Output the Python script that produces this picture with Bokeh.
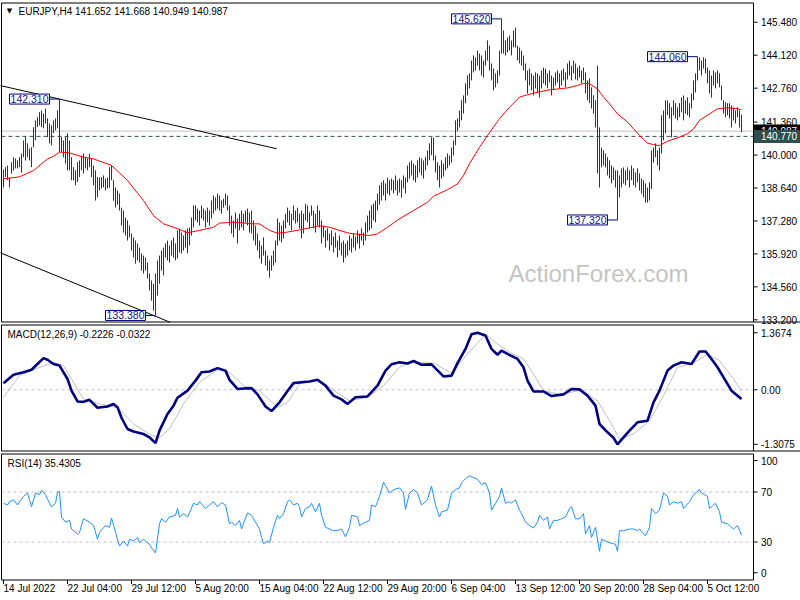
from bokeh.plotting import figure
from bokeh.models import Range1d, Label, ColumnDataSource
from bokeh.embed import file_html
from bokeh.resources import INLINE
from bokeh.core.properties import value

FONT = "Liberation Sans"
FS = "10px"

# ---------------- data ----------------
symbol_header = "EURJPY,H4  141.652 141.668 140.949 140.987"
macd_header = "MACD(12,26,9) -0.2226 -0.0322"
rsi_header = "RSI(14) 35.4305"
watermark = "ActionForex.com"

high = [
    139.40, 139.50, 139.57, 139.07, 139.70, 139.91, 139.86, 139.78, 139.91, 140.06,
    140.60, 140.74, 140.48, 140.27, 140.32, 141.15, 141.43, 141.56, 141.77, 141.84,
    141.71, 141.92, 141.51, 141.30, 141.22, 141.43, 141.51, 141.84, 142.31, 140.74,
    140.60, 140.74, 140.90, 140.60, 139.91, 139.50, 139.37, 139.70, 139.78, 139.98,
    140.06, 139.91, 139.86, 140.06, 139.86, 139.57, 139.37, 139.09, 139.07, 139.09,
    139.16, 139.03, 139.07, 139.50, 139.57, 138.96, 138.66, 138.54, 138.41, 137.83,
    137.71, 137.42, 137.30, 137.09, 136.76, 136.60, 136.47, 136.35, 136.18, 135.94,
    135.85, 135.77, 135.56, 135.11, 134.82, 134.69, 135.11, 135.65, 135.85, 136.06,
    136.18, 136.35, 136.47, 136.27, 136.47, 136.60, 136.35, 136.89, 136.97, 136.80,
    136.68, 136.89, 136.97, 137.01, 137.42, 137.92, 137.92, 137.79, 137.71, 137.92,
    137.79, 137.71, 137.83, 137.71, 138.12, 138.33, 138.25, 138.41, 138.33, 138.12,
    138.20, 138.41, 138.33, 137.92, 137.50, 137.30, 137.63, 137.38, 137.58, 137.71,
    137.58, 137.71, 137.79, 137.63, 137.71, 137.30, 137.09, 136.76, 136.47, 136.27,
    136.60, 136.06, 135.85, 135.65, 135.85, 136.06, 136.47, 137.38, 137.22, 137.09,
    137.30, 137.58, 137.83, 137.71, 137.58, 137.92, 137.71, 137.83, 137.58, 137.71,
    137.58, 137.99, 137.92, 137.63, 137.92, 137.71, 137.58, 137.92, 137.71, 137.30,
    137.09, 136.89, 136.97, 136.76, 136.89, 136.64, 136.80, 136.47, 136.68, 136.39,
    136.47, 136.35, 136.47, 136.68, 136.56, 136.76, 136.64, 136.89, 136.76, 136.97,
    136.80, 137.22, 137.50, 137.71, 137.92, 137.99, 138.12, 138.41, 138.75, 138.87,
    138.96, 138.83, 139.07, 138.96, 139.03, 138.96, 139.16, 138.96, 139.03, 138.96,
    139.16, 139.07, 139.57, 139.70, 139.78, 139.65, 139.57, 139.78, 139.91, 139.86,
    139.78, 139.91, 140.19, 140.48, 140.73, 140.73, 139.98, 139.70, 139.57, 139.78,
    139.65, 139.91, 140.06, 139.98, 140.31, 140.60, 141.43, 141.51, 141.84, 142.26,
    142.46, 142.96, 143.29, 143.37, 143.90, 144.11, 144.03, 144.31, 144.19, 144.11,
    143.90, 144.31, 144.73, 144.52, 143.78, 143.57, 143.37, 143.49, 144.31, 145.62,
    145.14, 144.73, 144.85, 144.93, 144.73, 145.14, 145.26, 144.52, 144.44, 144.31,
    144.11, 143.78, 143.49, 143.57, 143.37, 143.28, 143.41, 143.37, 143.28, 143.49,
    143.61, 143.57, 143.37, 143.49, 143.28, 143.20, 143.41, 143.49, 143.37, 143.49,
    143.57, 143.41, 143.78, 143.90, 143.69, 143.90, 143.78, 143.61, 143.69, 143.49,
    143.61, 143.41, 143.08, 143.16, 142.79, 142.46, 142.26, 143.69, 141.14, 140.31,
    140.19, 140.06, 139.91, 139.78, 139.57, 139.49, 139.37, 139.37, 139.16, 139.45,
    139.49, 139.37, 139.49, 139.37, 139.57, 139.45, 139.28, 139.45, 139.24, 139.03,
    138.96, 138.83, 138.66, 138.87, 140.19, 140.31, 140.48, 140.19, 140.31, 141.64,
    141.84, 142.26, 142.26, 142.14, 141.97, 142.26, 142.14, 141.97, 142.14, 142.38,
    142.46, 142.26, 142.38, 142.14, 142.54, 143.08, 143.37, 144.06, 144.03, 143.90,
    144.03, 143.98, 143.61, 143.49, 143.28, 143.49, 143.41, 143.49, 143.37, 142.87,
    142.26, 142.18, 142.14, 142.14, 142.05, 141.97, 141.84, 141.97, 141.84, 141.67,
]
low = [
    138.66, 139.09, 138.96, 138.66, 139.23, 139.36, 139.45, 139.45, 139.50, 139.28,
    139.91, 139.78, 139.91, 139.78, 139.50, 140.32, 140.61, 141.15, 141.22, 141.15,
    141.10, 141.30, 140.74, 140.48, 140.40, 140.90, 141.02, 141.10, 140.12, 140.12,
    139.91, 139.65, 139.37, 139.37, 138.96, 138.96, 138.75, 138.88, 139.09, 139.37,
    139.24, 139.45, 139.37, 139.50, 139.09, 138.75, 138.12, 138.26, 138.54, 138.62,
    138.67, 138.54, 138.62, 138.66, 138.96, 138.12, 137.83, 137.95, 137.71, 137.09,
    136.80, 136.68, 136.47, 136.60, 136.06, 135.77, 135.52, 135.65, 135.56, 135.23,
    135.11, 135.23, 134.90, 134.41, 133.99, 133.58, 133.38, 134.20, 134.69, 135.23,
    135.03, 135.77, 135.65, 135.56, 135.85, 135.77, 135.65, 135.73, 135.98, 135.94,
    136.06, 136.18, 135.94, 136.27, 136.68, 137.01, 137.30, 137.22, 137.09, 137.38,
    137.30, 137.01, 137.22, 137.09, 137.38, 137.58, 137.71, 137.79, 137.71, 137.58,
    137.83, 137.92, 137.71, 137.09, 136.76, 136.60, 136.97, 136.35, 136.89, 137.01,
    136.89, 137.22, 137.09, 136.80, 136.76, 136.47, 136.27, 136.06, 135.73, 135.52,
    135.85, 135.44, 135.23, 134.94, 135.23, 135.44, 135.56, 136.27, 136.47, 136.39,
    136.56, 136.97, 137.22, 137.09, 136.89, 137.30, 137.17, 137.22, 136.97, 136.56,
    136.76, 137.30, 137.22, 136.97, 137.50, 136.97, 136.80, 137.09, 137.01, 136.35,
    136.60, 136.18, 136.47, 136.06, 136.27, 135.98, 136.18, 135.77, 136.06, 135.85,
    135.56, 135.77, 135.85, 136.06, 135.98, 136.18, 136.06, 136.35, 136.14, 136.47,
    136.27, 136.47, 136.80, 136.89, 136.97, 137.30, 137.22, 137.71, 137.95, 138.12,
    138.33, 138.12, 138.41, 138.33, 138.54, 138.41, 138.54, 138.33, 138.45, 138.25,
    138.62, 138.41, 138.87, 139.03, 139.16, 138.96, 138.87, 139.07, 139.28, 139.16,
    139.03, 139.37, 139.57, 139.78, 139.99, 139.78, 139.28, 138.96, 138.66, 139.03,
    139.11, 139.37, 139.45, 139.57, 139.69, 139.98, 140.40, 140.98, 141.14, 141.43,
    141.71, 142.14, 142.46, 142.75, 143.08, 143.41, 143.49, 143.69, 143.49, 143.28,
    143.20, 143.69, 143.90, 143.49, 143.08, 142.67, 142.79, 142.96, 143.28, 144.19,
    144.19, 144.11, 144.23, 144.31, 144.11, 144.44, 144.44, 143.90, 143.78, 143.69,
    143.49, 143.08, 142.54, 142.87, 142.67, 142.46, 142.75, 142.58, 142.37, 142.75,
    142.96, 142.87, 142.75, 143.00, 142.46, 142.67, 142.87, 143.00, 142.75, 142.87,
    143.08, 142.79, 143.12, 143.28, 143.08, 143.37, 143.12, 143.08, 143.20, 142.96,
    143.08, 142.54, 142.26, 142.14, 141.92, 141.71, 141.14, 139.24, 138.66, 139.49,
    139.57, 139.49, 139.16, 139.03, 138.83, 138.96, 138.66, 137.32, 138.25, 138.66,
    138.83, 138.75, 138.96, 138.66, 138.96, 138.75, 138.66, 138.87, 138.54, 138.41,
    138.25, 138.04, 138.04, 138.12, 138.60, 139.69, 139.91, 139.57, 139.37, 140.06,
    140.61, 140.90, 141.64, 141.51, 140.73, 141.64, 141.51, 141.43, 141.56, 141.76,
    141.43, 141.71, 141.64, 141.56, 141.92, 142.26, 142.58, 143.08, 143.49, 143.28,
    143.57, 143.37, 142.96, 142.54, 142.37, 142.87, 142.75, 142.96, 142.79, 142.26,
    141.71, 141.56, 141.64, 141.51, 141.14, 141.43, 141.30, 141.56, 141.14, 140.95,
]
bar_idx = list(range(len(high)))

ma_idx = [0, 8, 15, 22, 25, 28, 33, 40, 45, 54,
          62, 70, 75, 80, 87, 92, 98, 105, 108, 115,
          125, 128, 133, 137, 142, 148, 158, 163, 168, 173,
          178, 183, 187, 192, 198, 205, 212, 215, 222, 227,
          230, 233, 238, 242, 248, 253, 258, 262, 267, 273,
          282, 287, 290, 293, 297, 300, 303, 307, 312, 315,
          318, 322, 325, 328, 332, 337, 342, 345, 348, 353,
          357, 362, 367, 369]
ma_val = [139.02, 139.10, 139.36, 139.84, 139.95, 140.12, 140.09, 139.91, 139.84, 139.57,
          138.95, 138.12, 137.50, 137.16, 136.96, 136.79, 136.89, 137.02, 137.19, 137.23,
          137.16, 137.16, 136.89, 136.77, 136.82, 136.91, 137.08, 137.02, 136.89, 136.77,
          136.72, 136.68, 136.75, 137.02, 137.37, 137.71, 138.05, 138.30, 138.57, 138.81,
          139.16, 139.64, 140.32, 140.81, 141.50, 141.97, 142.39, 142.49, 142.59, 142.69,
          142.77, 142.87, 142.96, 142.94, 142.73, 142.39, 142.11, 141.70, 141.36, 141.08,
          140.81, 140.49, 140.43, 140.39, 140.57, 140.71, 140.88, 141.08, 141.43, 141.70,
          141.91, 141.95, 141.91, 141.87]

macd_idx = [0, 5, 10, 14, 17, 20, 22, 25, 28, 32,
            34, 37, 40, 43, 47, 52, 55, 57, 59, 62,
            65, 70, 73, 76, 78, 82, 85, 87, 92, 96,
            99, 103, 107, 111, 113, 117, 120, 124, 127, 131,
            134, 138, 142, 145, 149, 153, 157, 161, 165, 169,
            172, 176, 182, 187, 191, 194, 198, 202, 205, 209,
            214, 220, 224, 227, 231, 234, 237, 241, 244, 247,
            249, 252, 257, 260, 262, 265, 270, 274, 280, 284,
            288, 292, 296, 298, 302, 305, 307, 310, 313, 317,
            322, 325, 328, 332, 335, 339, 344, 348, 351, 354,
            357, 361, 364, 369]
macd_val = [0.16, 0.36, 0.42, 0.48, 0.62, 0.76, 0.72, 0.62, 0.58, 0.26,
            -0.02, -0.28, -0.29, -0.24, -0.43, -0.40, -0.34, -0.42, -0.67, -0.94,
            -1.00, -1.06, -1.14, -1.28, -0.98, -0.58, -0.38, -0.19, -0.02, 0.22,
            0.42, 0.44, 0.52, 0.46, 0.24, 0.02, 0.03, 0.04, -0.11, -0.40,
            -0.51, -0.30, -0.03, 0.16, 0.18, 0.20, 0.24, 0.10, -0.14, -0.23,
            -0.34, -0.18, -0.16, 0.10, 0.46, 0.61, 0.66, 0.63, 0.69, 0.60,
            0.61, 0.32, 0.34, 0.64, 0.98, 1.33, 1.37, 1.30, 0.98, 0.84,
            0.94, 0.86, 0.74, 0.54, 0.22, -0.04, -0.04, -0.15, -0.11, 0.02,
            0.01, -0.14, -0.38, -0.82, -1.02, -1.15, -1.31, -1.14, -0.98, -0.78,
            -0.74, -0.30, -0.02, 0.46, 0.58, 0.66, 0.62, 0.92, 0.92, 0.74,
            0.54, 0.22, -0.02, -0.22]

sig_idx = [0, 8, 17, 25, 30, 35, 40, 48, 57, 65,
           73, 78, 83, 90, 98, 107, 113, 120, 128, 137,
           142, 148, 157, 163, 173, 182, 190, 198, 203, 215,
           224, 232, 241, 247, 253, 260, 265, 270, 278, 288,
           297, 303, 308, 315, 323, 330, 337, 345, 352, 358,
           365, 369]
sig_val = [-0.18, 0.34, 0.52, 0.66, 0.58, 0.18, -0.22, -0.34, -0.43, -0.82,
           -1.06, -1.15, -0.94, -0.34, 0.18, 0.48, 0.42, 0.10, -0.02, -0.42,
           -0.30, 0.14, 0.24, 0.06, -0.26, -0.18, 0.10, 0.54, 0.66, 0.64,
           0.40, 0.86, 1.33, 1.10, 0.90, 0.74, 0.38, -0.02, -0.11, -0.02,
           -0.26, -0.74, -1.18, -1.06, -0.74, -0.14, 0.54, 0.64, 0.86, 0.70,
           0.26, -0.03]

rsi_idx = [0, 2, 3, 5, 7, 8, 10, 12, 14, 16,
           18, 19, 21, 23, 24, 26, 27, 28, 29, 31,
           33, 34, 37, 38, 40, 43, 45, 47, 48, 51,
           53, 54, 56, 58, 60, 62, 63, 65, 67, 68,
           70, 73, 74, 76, 78, 79, 81, 83, 86, 87,
           88, 90, 92, 93, 95, 97, 98, 101, 103, 105,
           107, 109, 111, 113, 114, 116, 118, 119, 122, 124,
           126, 128, 129, 130, 132, 133, 135, 137, 138, 140,
           142, 143, 145, 147, 148, 149, 151, 153, 154, 156,
           158, 159, 161, 163, 165, 168, 169, 171, 173, 174,
           177, 178, 181, 183, 184, 186, 188, 190, 193, 195,
           198, 200, 201, 203, 205, 207, 209, 212, 214, 216,
           218, 219, 222, 224, 226, 228, 229, 231, 233, 235,
           237, 239, 241, 243, 244, 246, 248, 249, 251, 253,
           254, 256, 258, 259, 261, 263, 265, 267, 268, 270,
           272, 273, 275, 277, 279, 281, 283, 284, 286, 288,
           290, 291, 293, 294, 296, 298, 299, 301, 303, 306,
           307, 308, 310, 313, 315, 317, 318, 321, 323, 324,
           326, 328, 330, 332, 333, 335, 337, 339, 340, 343,
           345, 348, 349, 352, 353, 356, 358, 359, 362, 363,
           365, 367, 369]
rsi_val = [61.0, 59.6, 62.3, 63.7, 59.6, 62.3, 66.4, 69.2, 58.2, 69.2,
           67.8, 71.4, 67.8, 61.0, 58.2, 61.0, 69.7, 70.5, 50.0, 45.9,
           47.3, 40.4, 36.3, 37.7, 48.6, 45.9, 43.2, 32.2, 37.7, 43.2,
           41.8, 49.2, 37.7, 26.7, 30.8, 26.7, 32.2, 30.8, 33.6, 29.5,
           32.2, 28.1, 25.3, 21.2, 44.5, 48.6, 45.9, 50.0, 51.4, 56.8,
           50.0, 52.7, 50.0, 53.3, 61.0, 59.6, 62.3, 56.8, 59.6, 62.3,
           58.2, 61.5, 59.6, 44.5, 45.9, 43.2, 47.3, 40.4, 53.3, 51.4,
           45.9, 40.4, 33.6, 28.6, 30.8, 29.5, 41.8, 51.4, 48.6, 52.7,
           62.3, 63.7, 59.6, 61.0, 58.2, 50.0, 56.8, 58.2, 61.0, 54.1,
           61.0, 51.4, 41.8, 40.4, 39.0, 39.6, 40.4, 34.1, 41.8, 51.4,
           50.0, 43.2, 45.9, 47.3, 59.6, 58.2, 66.4, 77.9, 69.2, 71.9,
           73.3, 69.2, 56.0, 69.2, 71.9, 69.2, 59.6, 63.7, 74.7, 59.6,
           50.0, 54.1, 55.5, 69.2, 71.9, 73.3, 77.4, 80.7, 82.9, 81.5,
           80.1, 76.0, 77.4, 69.2, 55.5, 61.0, 66.4, 73.3, 61.0, 62.3,
           61.0, 63.7, 55.5, 52.7, 45.9, 43.2, 41.2, 45.9, 51.4, 47.3,
           50.0, 40.4, 47.3, 47.3, 48.6, 50.0, 56.8, 58.2, 48.6, 48.6,
           52.7, 36.3, 43.2, 33.6, 41.8, 22.6, 32.2, 30.8, 29.5, 28.1,
           22.6, 39.0, 39.0, 40.4, 40.4, 39.0, 40.4, 34.9, 41.8, 56.8,
           52.7, 55.5, 69.2, 66.4, 59.6, 62.3, 61.0, 62.3, 56.8, 62.3,
           67.8, 71.9, 69.2, 66.4, 56.8, 61.0, 54.1, 45.9, 44.5, 43.2,
           40.4, 43.2, 35.4]

# trend lines (bar index, price)
trend_upper_idx = [-1.75, 136.6]
trend_upper_px = [142.87, 140.26]
trend_lower_idx = [-1.75, 83.25]
trend_lower_px = [135.97, 133.10]

# swing high / low labels
swing_idx = [28, 76, 249, 307, 347]
swing_px = [142.31, 133.38, 145.62, 137.32, 144.06]
swing_txt = ["142.310", "133.380", "145.620", "137.320", "144.060"]

bid_price = 140.987
alert_price = 140.770

price_ticks = [145.48, 144.12, 142.76, 141.36, 140.00, 138.64, 137.28, 135.92, 134.56, 133.20]
macd_ticks = [1.3674, 0.0, -1.3075]
macd_tick_txt = ["1.3674", "0.00", "-1.3075"]
rsi_levels = [70, 30]
rsi_tick_pos = [95.2, 70, 30, 5.4]
rsi_tick_txt = ["100", "70", "30", "0"]

date_idx = [0, 32, 64, 96, 128, 160, 192, 224, 256, 288, 320, 352]
date_txt = ["14 Jul 2022", "22 Jul 04:00", "29 Jul 12:00", "5 Aug 20:00",
            "15 Aug 04:00", "22 Aug 12:00", "29 Aug 20:00", "6 Sep 04:00",
            "13 Sep 12:00", "20 Sep 20:00", "28 Sep 04:00", "5 Oct 12:00"]

# ---------------- layout constants (bar units / pixel rows) ----------------
BAR = "#173A57"
X_START, X_END = -1.5, 398.5        # 2 px per bar across 800 px
PLOT_L, PLOT_R = -1.0, 375.0        # plot-area borders
TICK_END = PLOT_R + 2.0             # 4 px tick marks
LABEL_X = 378.75                    # left edge of scale labels
TAG_L = 375.25
W, H = 800, 600


def main_val(row):      # page pixel row -> price
    return 133.2 + (319.3 - row) / 24.23


def macd_v(row):        # page pixel row -> MACD value
    return (389.3 - row) / 41.7


def rsi_v(row):         # page pixel row -> RSI value
    return (579.0 - row) / 1.25


p = figure(width=W, height=H, x_range=Range1d(X_START, X_END),
           y_range=Range1d(main_val(H), main_val(0)),
           output_backend="svg", toolbar_location=None,
           x_axis_location=None, y_axis_location=None,
           min_border_left=0, min_border_right=0, min_border_top=0, min_border_bottom=0)
p.extra_y_ranges = {"macd": Range1d(macd_v(H), macd_v(0)),
                    "rsi": Range1d(rsi_v(H), rsi_v(0))}
p.outline_line_color = None
p.grid.visible = False
p.background_fill_color = "white"
p.border_fill_color = "white"


def scale(ticks, labels, rn):
    p.segment(x0=PLOT_R, x1=TICK_END, y0=ticks, y1=ticks, line_color="black",
              line_width=1, y_range_name=rn)
    p.text(x=[LABEL_X] * len(ticks), y=ticks, text=labels, text_font=value(FONT),
           text_font_size=value(FS), text_color="black", text_align="left",
           text_baseline="middle", y_range_name=rn)


def frame_box(top, bottom, rn):
    p.quad(left=PLOT_L, right=PLOT_R, top=top, bottom=bottom, fill_color=None,
           line_color="black", line_width=1, y_range_name=rn)


def hline(y, color, rn, dash="solid"):
    p.segment(x0=PLOT_L, x1=PLOT_R, y0=y, y1=y, line_color=color, line_width=1,
              line_dash=dash, y_range_name=rn)


def header(x, y, txt, rn):
    p.add_layout(Label(x=x, y=y, text=txt, text_font=FONT, text_font_size=FS,
                       text_color="black", text_align="left", text_baseline="middle",
                       y_range_name=rn))


MAIN = "default"

# ---- main price panel ----
p.add_layout(Label(x=297.5, y=main_val(273), text=watermark, text_font=FONT,
                   text_font_size="24px", text_color="#C4C4C4", text_align="center",
                   text_baseline="middle", level="underlay"))
hline(bid_price, "#C0C0C0", MAIN)
hline(alert_price, "#2F4F4F", MAIN, "4 3")
p.line(trend_upper_idx, trend_upper_px, line_color="black", line_width=1)
p.line(trend_lower_idx, trend_lower_px, line_color="black", line_width=1)

bars = ColumnDataSource(dict(i=bar_idx, high=high, low=low))
p.segment(x0="i", y0="low", x1="i", y1="high", source=bars, line_color=BAR, line_width=1)
p.line(ma_idx, ma_val, line_color="#FF0000", line_width=1)

label_gap = 5
p.segment(x0=[i - label_gap for i in swing_idx], x1=swing_idx, y0=swing_px, y1=swing_px,
          line_color="#000080", line_width=1)
for i, v, t in zip(swing_idx, swing_px, swing_txt):
    p.add_layout(Label(x=i - label_gap, y=v, text=t, text_align="right", text_baseline="middle",
                       text_font=FONT, text_font_size="10.5px", text_color="#14148C",
                       border_line_color="#000080", border_line_width=1,
                       background_fill_color="white", padding=1))

p.add_layout(Label(x=3.0, y=main_val(10.5), text="\u25BC", text_font="DejaVu Sans",
                   text_font_size="7px", text_color="black", text_align="center",
                   text_baseline="middle"))
header(7.5, main_val(11), symbol_header, MAIN)

frame_box(main_val(2.5), main_val(321.5), MAIN)
p.segment(x0=PLOT_R, x1=X_END, y0=main_val(321.5), y1=main_val(321.5), line_color="black")
scale(price_ticks, [f"{t:.3f}" for t in price_ticks], MAIN)

half = 6.5 / 24.23
for v, bg in ((bid_price, "black"), (alert_price, "#2F4F4F")):
    p.quad(left=TAG_L, right=X_END, top=v + half, bottom=v - half, fill_color=bg, line_color=None)
    p.text(x=[LABEL_X], y=[v], text=[f"{v:.3f}"], text_font=value(FONT),
           text_font_size=value(FS), text_color="white", text_align="left",
           text_baseline="middle")

# ---- MACD panel ----
hline(0.0, "#C0C0C0", "macd", "3 3")
p.line(sig_idx, sig_val, line_color="#C0C0C0", line_width=1, y_range_name="macd")
p.line(macd_idx, macd_val, line_color="#000080", line_width=2.6, y_range_name="macd")
header(2.0, macd_v(334), macd_header, "macd")
frame_box(macd_v(324.5), macd_v(450.5), "macd")
p.segment(x0=PLOT_R, x1=X_END, y0=macd_v(450.5), y1=macd_v(450.5), line_color="black",
          y_range_name="macd")
scale(macd_ticks, macd_tick_txt, "macd")

# ---- RSI panel ----
for lv in rsi_levels:
    hline(lv, "#C0C0C0", "rsi", "3 3")
p.line(rsi_idx, rsi_val, line_color="#1E90FF", line_width=1, y_range_name="rsi")
header(2.0, rsi_v(463), rsi_header, "rsi")
frame_box(rsi_v(453.5), rsi_v(579.5), "rsi")
scale(rsi_tick_pos, rsi_tick_txt, "rsi")

p.segment(x0=date_idx, x1=date_idx, y0=rsi_v(579.5), y1=rsi_v(583.5),
          line_color="black", line_width=1, y_range_name="rsi")
p.text(x=date_idx, y=[rsi_v(588)] * len(date_idx), text=date_txt, text_font=value(FONT),
       text_font_size=value(FS), text_color="black", text_align="left",
       text_baseline="middle", y_range_name="rsi")

open("out.html", "w").write(file_html(p, INLINE))
